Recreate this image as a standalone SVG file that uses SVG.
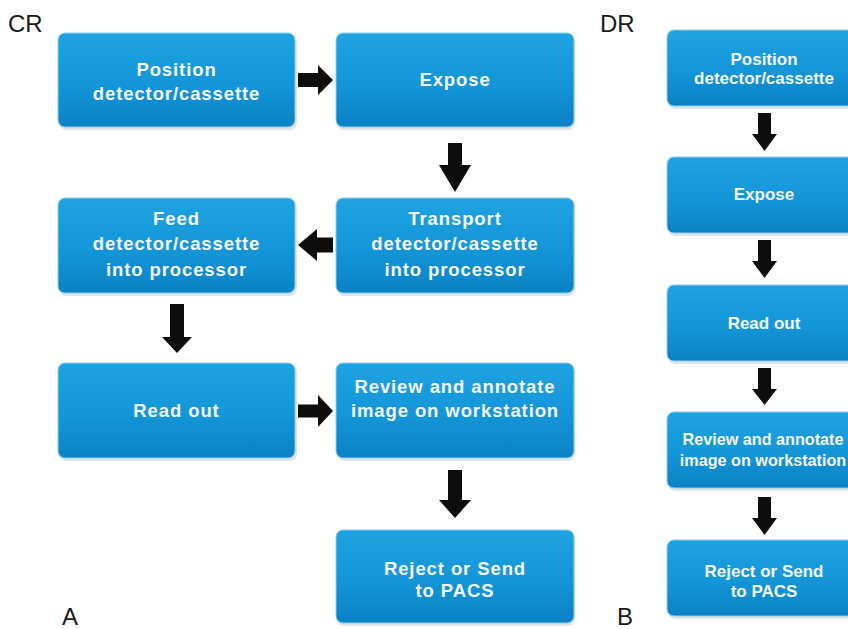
<svg xmlns="http://www.w3.org/2000/svg" width="848" height="629" viewBox="0 0 848 629">
<defs>
<linearGradient id="boxGrad" x1="0" y1="0" x2="0" y2="1">
<stop offset="0" stop-color="#1fa3e2"/>
<stop offset="0.55" stop-color="#1395d7"/>
<stop offset="1" stop-color="#0a82c5"/>
</linearGradient>
<style>
.box{fill:url(#boxGrad);stroke:#8ccbed;stroke-width:1}
.shadow{fill:#c9d3da;opacity:0.6}
.cr{font-family:"Liberation Sans",Arial,sans-serif;font-weight:bold;font-size:18.5px;letter-spacing:0.9px;fill:#f6f9fc;text-anchor:middle}
.dr{font-family:"Liberation Sans",Arial,sans-serif;font-weight:bold;font-size:17px;fill:#f6f9fc;text-anchor:middle}
.drs{font-size:16.2px}
.lbl{font-family:"Liberation Sans",Arial,sans-serif;font-size:24px;fill:#1a1a1a}
.arrow{fill:#0d0d0d}
</style>
</defs>
<rect width="848" height="629" fill="#ffffff"/>

<g id="labels">
<text class="lbl" x="8" y="32">CR</text>
<text class="lbl" x="600" y="32">DR</text>
<text class="lbl" x="62" y="625">A</text>
<text class="lbl" x="617" y="625">B</text>
</g>

<!-- CR nodes -->
<g id="cr-position">
<rect class="shadow" x="59" y="35" width="238" height="95" rx="7"/>
<rect class="box" x="58" y="33" width="237" height="94" rx="7"/>
<text class="cr" x="176.5" y="76">Position</text>
<text class="cr" x="176.5" y="100">detector/cassette</text>
</g>
<g id="cr-expose">
<rect class="shadow" x="337" y="35" width="238" height="95" rx="7"/>
<rect class="box" x="336" y="33" width="238" height="94" rx="7"/>
<text class="cr" x="455" y="86">Expose</text>
</g>
<g id="cr-transport">
<rect class="shadow" x="337" y="200" width="238" height="96" rx="7"/>
<rect class="box" x="336" y="198" width="238" height="95" rx="7"/>
<text class="cr" x="455" y="225">Transport</text>
<text class="cr" x="455" y="250">detector/cassette</text>
<text class="cr" x="455" y="276">into processor</text>
</g>
<g id="cr-feed">
<rect class="shadow" x="59" y="200" width="238" height="96" rx="7"/>
<rect class="box" x="58" y="198" width="237" height="95" rx="7"/>
<text class="cr" x="176.5" y="225">Feed</text>
<text class="cr" x="176.5" y="250">detector/cassette</text>
<text class="cr" x="176.5" y="276">into processor</text>
</g>
<g id="cr-readout">
<rect class="shadow" x="59" y="365" width="238" height="96" rx="7"/>
<rect class="box" x="58" y="363" width="237" height="95" rx="7"/>
<text class="cr" x="176.5" y="417">Read out</text>
</g>
<g id="cr-review">
<rect class="shadow" x="337" y="365" width="238" height="96" rx="7"/>
<rect class="box" x="336" y="363" width="238" height="95" rx="7"/>
<text class="cr" x="455" y="393">Review and annotate</text>
<text class="cr" x="455" y="417">image on workstation</text>
</g>
<g id="cr-reject">
<rect class="shadow" x="337" y="532" width="238" height="94" rx="7"/>
<rect class="box" x="336" y="530" width="238" height="93" rx="7"/>
<text class="cr" x="455" y="575">Reject or Send</text>
<text class="cr" x="455" y="597">to PACS</text>
</g>

<!-- DR nodes -->
<g id="dr-position">
<rect class="shadow" x="668" y="32" width="200" height="77" rx="7"/>
<rect class="box" x="667" y="30" width="200" height="76" rx="7"/>
<text class="dr" x="764" y="65">Position</text>
<text class="dr" x="764" y="84">detector/cassette</text>
</g>
<g id="dr-expose">
<rect class="shadow" x="668" y="159" width="200" height="77" rx="7"/>
<rect class="box" x="667" y="157" width="200" height="76" rx="7"/>
<text class="dr" x="764" y="200">Expose</text>
</g>
<g id="dr-readout">
<rect class="shadow" x="668" y="287" width="200" height="77" rx="7"/>
<rect class="box" x="667" y="285" width="200" height="76" rx="7"/>
<text class="dr" x="764" y="329">Read out</text>
</g>
<g id="dr-review">
<rect class="shadow" x="668" y="414" width="200" height="77" rx="7"/>
<rect class="box" x="667" y="412" width="200" height="76" rx="7"/>
<text class="dr drs" x="763" y="445">Review and annotate</text>
<text class="dr drs" x="763" y="466">image on workstation</text>
</g>
<g id="dr-reject">
<rect class="shadow" x="668" y="542" width="200" height="77" rx="7"/>
<rect class="box" x="667" y="540" width="200" height="76" rx="7"/>
<text class="dr" x="764" y="577">Reject or Send</text>
<text class="dr" x="764" y="597">to PACS</text>
</g>

<g id="connectors">
<!-- CR -->
<path class="arrow" d="M298 73 H318 V65 L333 80 L318 95 V87 H298 Z"/>
<path class="arrow" d="M448 143 H462 V165 H471 L455 192 L439 165 H448 Z"/>
<path class="arrow" d="M333 237.5 H317 V229 L298 245 L317 261 V252.5 H333 Z"/>
<path class="arrow" d="M170 304 H184 V337 H192 L177 353 L162 337 H170 Z"/>
<path class="arrow" d="M298 404.5 H318 V395 L333 411 L318 427 V417.5 H298 Z"/>
<path class="arrow" d="M448 470 H462 V500 H471 L455 518 L439 500 H448 Z"/>
<!-- DR -->
<path class="arrow" d="M758 113 H771 V134 H777 L764.5 151 L752 134 H758 Z"/>
<path class="arrow" d="M758 240 H771 V261 H777 L764.5 278 L752 261 H758 Z"/>
<path class="arrow" d="M758 368 H771 V389 H777 L764.5 405 L752 389 H758 Z"/>
<path class="arrow" d="M758 497 H771 V518 H777 L764.5 535 L752 518 H758 Z"/>
</g>
</svg>
